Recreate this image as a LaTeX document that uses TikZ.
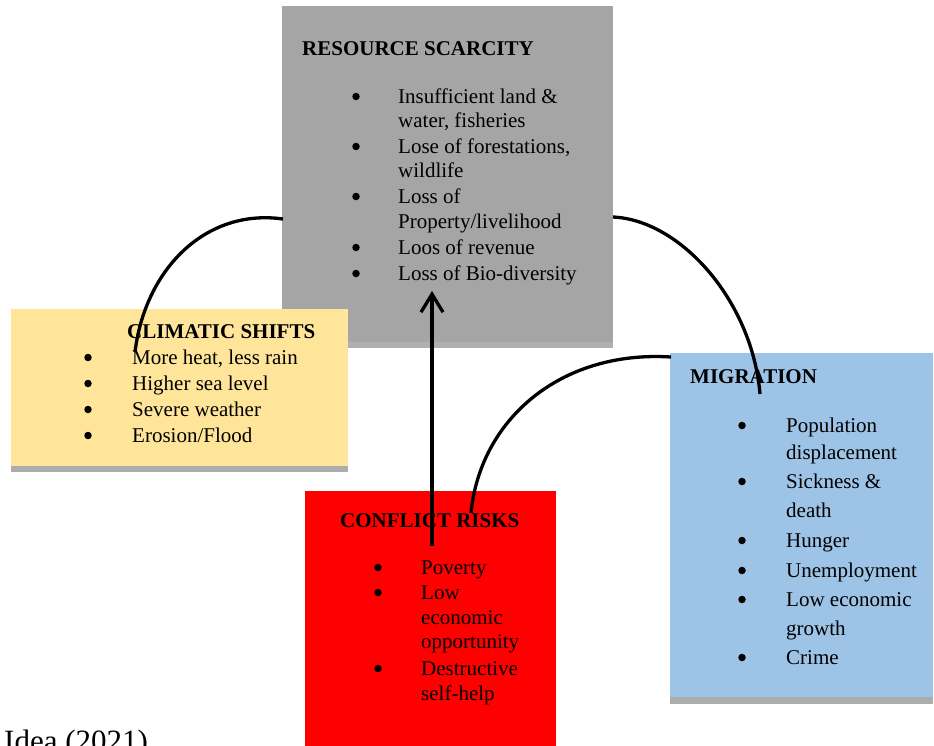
\documentclass[tikz,border=0pt]{standalone}
\usepackage{fontspec}
\setmainfont{Liberation Serif}
\usetikzlibrary{arrows.meta}
\definecolor{resgray}{HTML}{A5A5A5}
\definecolor{resstrip}{HTML}{B0B0B0}
\definecolor{climyellow}{HTML}{FFE599}
\definecolor{migblue}{HTML}{9DC3E6}
\definecolor{shadowgray}{HTML}{ADADAD}
\definecolor{confred}{HTML}{FF0000}
\begin{document}
\begin{tikzpicture}[x=1pt,y=-1pt,
  panel/.style={draw=none,inner sep=0pt,outer sep=0pt,anchor=north west},
  head/.style={inner sep=0pt,anchor=base west,font=\fontsize{21}{25}\selectfont\bfseries},
  item/.style={inner sep=0pt,anchor=base west,font=\fontsize{21}{25}\selectfont},
  bul/.style={circle,fill=black,inner sep=0pt,minimum size=7.5pt,yshift=6.5pt},
  link/.style={line width=3.3pt,draw=black}
]
\useasboundingbox (0,0) rectangle (934,745);
\clip (0,0) rectangle (934,745);

% panels
\node[panel,fill=resgray,minimum width=331pt,minimum height=342pt] (res) at (282,6) {};
\fill[resstrip] (282,342) rectangle (613,348);
\node[panel,fill=climyellow,minimum width=337pt,minimum height=157pt] (clim) at (11,309) {};
\fill[shadowgray] (11,466) rectangle (348,472);
\node[panel,fill=migblue,minimum width=263pt,minimum height=344pt] (mig) at (670,353) {};
\fill[shadowgray] (670,697) rectangle (933,704);
\node[panel,fill=confred,minimum width=251pt,minimum height=260pt] (conf) at (305,491) {};

% resource scarcity
\node[head] (rh) at (302,55) {RESOURCE SCARCITY};
\node[bul] (rb1) at (356,103) {};
\node[item] (r1) at (398,103) {Insufficient land \&};
\node[item] (r1b) at (398,127.5) {water, fisheries};
\node[bul] (rb2) at (356,153) {};
\node[item] (r2) at (398,153) {Lose of forestations,};
\node[item] (r2b) at (398,177.5) {wildlife};
\node[bul] (rb3) at (356,203) {};
\node[item] (r3) at (398,203) {Loss of};
\node[item] (r3b) at (398,228) {Property/livelihood};
\node[bul] (rb4) at (356,254) {};
\node[item] (r4) at (398,254) {Loos of revenue};
\node[bul] (rb5) at (356,280) {};
\node[item] (r5) at (398,280) {Loss of Bio-diversity};

% climatic shifts
\node[head] (ch) at (127,338) {CLIMATIC SHIFTS};
\node[bul] (cb1) at (88,364) {};
\node[item] (c1) at (132,364) {More heat, less rain};
\node[bul] (cb2) at (88,390) {};
\node[item] (c2) at (132,390) {Higher sea level};
\node[bul] (cb3) at (88,416) {};
\node[item] (c3) at (132,416) {Severe weather};
\node[bul] (cb4) at (88,442) {};
\node[item] (c4) at (132,442) {Erosion/Flood};

% migration
\node[head] (mh) at (690,383) {MIGRATION};
\node[bul] (mb1) at (742,432) {};
\node[item] (m1) at (786,432) {Population};
\node[item] (m1b) at (786,459) {displacement};
\node[bul] (mb2) at (742,488) {};
\node[item] (m2) at (786,488) {Sickness \&};
\node[item] (m2b) at (786,517) {death};
\node[bul] (mb3) at (742,547) {};
\node[item] (m3) at (786,547) {Hunger};
\node[bul] (mb4) at (742,577) {};
\node[item] (m4) at (786,577) {Unemployment};
\node[bul] (mb5) at (742,606) {};
\node[item] (m5) at (786,606) {Low economic};
\node[item] (m5b) at (786,635) {growth};
\node[bul] (mb6) at (742,664) {};
\node[item] (m6) at (786,664) {Crime};

% conflict risks
\node[head] (kh) at (340,527) {CONFLICT RISKS};
\node[bul] (kb1) at (378,574) {};
\node[item] (k1) at (421,574) {Poverty};
\node[bul] (kb2) at (378,599) {};
\node[item] (k2) at (421,599) {Low};
\node[item] (k2b) at (421,624) {economic};
\node[item] (k2c) at (421,648) {opportunity};
\node[bul] (kb3) at (378,675) {};
\node[item] (k3) at (421,675) {Destructive};
\node[item] (k3b) at (421,700) {self-help};

% source
\node[inner sep=0pt,anchor=base west,font=\fontsize{31}{36}\selectfont] (src) at (4,751) {Idea (2021)};

% connectors
\coordinate (a1s) at (283,219);
\coordinate (a1e) at (135,352);
\coordinate (a2s) at (613,217);
\coordinate (a2e) at (760,394);
\coordinate (a3s) at (471,513);
\coordinate (a3e) at (671,357);
\coordinate (a4s) at (432,546);
\coordinate (a4e) at (432,291);
\draw[link] (a1s) .. controls (205,208) and (145,270) .. (a1e);
\draw[link] (a2s) .. controls (680,220) and (752,300) .. (a2e);
\draw[link] (a3s) .. controls (480,420) and (560,350) .. (a3e);
\draw[link,-{Straight Barb[length=18pt,width=22pt]}] (a4s) -- (a4e);
\end{tikzpicture}
\end{document}
